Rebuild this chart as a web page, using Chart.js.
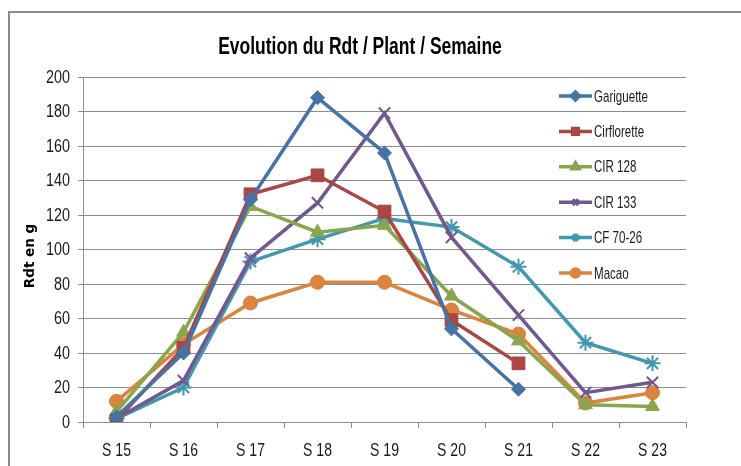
<!DOCTYPE html>
<html>
<head>
<meta charset="utf-8">
<script src="https://cdn.jsdelivr.net/npm/chart.js@4.4.1/dist/chart.umd.min.js"></script>
<style>
  html, body { margin: 0; padding: 0; background: #ffffff; }
  #wrap { width: 741px; height: 466px; }
</style>
</head>
<body>
<div id="wrap"><canvas id="c" width="741" height="466"></canvas></div>
<script>
const chartTitle = 'Evolution du Rdt / Plant / Semaine';
const yAxisTitle = 'Rdt en g';
const categories = ['S 15', 'S 16', 'S 17', 'S 18', 'S 19', 'S 20', 'S 21', 'S 22', 'S 23'];
const seriesNames = ['Gariguette', 'Cirflorette', 'CIR 128', 'CIR 133', 'CF 70-26', 'Macao'];
const gariguette = [3, 40, 129, 188, 156, 54, 19, null, null];
const cirflorette = [1, 43, 132, 143, 122, 59, 34, null, null];
const cir128 = [6, 52, 125, 110, 114, 73, 47, 10, 9];
const cir133 = [2, 24, 95, 127, 179, 107, 62, 17, 23];
const cf7026 = [2, 20, 93, 106, 118, 113, 90, 46, 34];
const macao = [12, 45, 69, 81, 81, 65, 51, 11, 17];
const yTicks = [0, 20, 40, 60, 80, 100, 120, 140, 160, 180, 200];

const colors = ['#4572A7', '#AA4643', '#89A54E', '#71588F', '#4198AF', '#DB843D'];
const styles = ['rectRot', 'rect', 'triangle', 'crossRot', 'star', 'circle'];
const radii = [7, 9, 8, 8, 8, 7];
const values = [gariguette, cirflorette, cir128, cir133, cf7026, macao];

const gridColor = '#8c8c8c';
const labelFont = "18px 'Liberation Sans', Arial, sans-serif";

const datasets = seriesNames.map((name, i) => ({
  label: name,
  data: values[i],
  borderColor: colors[i],
  backgroundColor: colors[i],
  borderWidth: 3.5,
  pointStyle: styles[i],
  pointRadius: radii[i],
  pointBorderWidth: (styles[i] === 'crossRot' || styles[i] === 'star') ? 2 : 1,
  pointBorderColor: colors[i],
  pointBackgroundColor: colors[i],
  tension: 0,
  spanGaps: false
}));

function narrowText(ctx, text, x, y, align, font, sx) {
  ctx.save();
  ctx.translate(x, y);
  ctx.scale(sx, 1);
  ctx.font = font;
  ctx.textAlign = align;
  ctx.textBaseline = 'middle';
  ctx.fillText(text, 0, 0);
  ctx.restore();
}

const decor = {
  id: 'decor',
  beforeDraw(chart) {
    const ctx = chart.ctx;
    ctx.save();
    ctx.fillStyle = '#ffffff';
    ctx.fillRect(0, 0, chart.width, chart.height);
    ctx.strokeStyle = '#8c8c8c';
    ctx.lineWidth = 2;
    ctx.strokeRect(9, 12, 1000, 1000);
    ctx.restore();
  },
  afterDraw(chart) {
    const ctx = chart.ctx;
    ctx.save();
    // Axis tick labels, positioned by the chart's own scales
    ctx.fillStyle = '#1a1a1a';
    const xs = chart.scales.x;
    xs.ticks.forEach((t, i) => {
      narrowText(ctx, xs.getLabelForValue(t.value), xs.getPixelForTick(i), 451, 'center', labelFont, 0.78);
    });
    const ys = chart.scales.y;
    ys.ticks.forEach((t) => {
      narrowText(ctx, String(t.value), 70, ys.getPixelForValue(t.value) + 1, 'right', labelFont, 0.8);
    });
    // Title
    ctx.fillStyle = '#000000';
    narrowText(ctx, chartTitle, 360, 48, 'center', "bold 23px 'Liberation Sans', Arial, sans-serif", 0.76);
    // Y axis title
    ctx.save();
    ctx.translate(30, 256);
    ctx.rotate(-Math.PI / 2);
    ctx.font = "bold 13.5px 'DejaVu Sans', sans-serif";
    ctx.textAlign = 'center';
    ctx.textBaseline = 'middle';
    ctx.fillText(yAxisTitle, 0, 0);
    ctx.restore();
    // Legend
    const lx0 = 559, lx1 = 592, ly0 = 96, lstep = 35.4;
    chart.data.datasets.forEach((ds, i) => {
      const y = ly0 + i * lstep;
      ctx.strokeStyle = ds.borderColor;
      ctx.lineWidth = 3.5;
      ctx.beginPath();
      ctx.moveTo(lx0, y);
      ctx.lineTo(lx1, y);
      ctx.stroke();
      ctx.fillStyle = ds.borderColor;
      Chart.helpers.drawPoint(ctx, {
        pointStyle: ds.pointStyle,
        radius: 4,
        rotation: 0,
        borderWidth: 1
      }, (lx0 + lx1) / 2, y);
      if (ds.pointStyle !== 'crossRot' && ds.pointStyle !== 'star') ctx.fill();
      ctx.fillStyle = '#1a1a1a';
      narrowText(ctx, ds.label, 594, y + 1, 'left', "17px 'Liberation Sans', Arial, sans-serif", 0.68);
    });
    ctx.restore();
  }
};

new Chart(document.getElementById('c'), {
  type: 'line',
  data: { labels: categories, datasets: datasets },
  options: {
    responsive: false,
    animation: false,
    layout: { padding: { top: 77, right: 55, bottom: 0, left: 0 } },
    plugins: {
      legend: { display: false },
      title: { display: false },
      tooltip: { enabled: false }
    },
    scales: {
      x: {
        offset: true,
        grid: { offset: true, drawOnChartArea: false, drawTicks: true, tickLength: 6, color: gridColor },
        border: { color: gridColor, width: 1 },
        ticks: { display: false, autoSkip: false, maxRotation: 0 },
        afterFit(s) { s.height = 44; }
      },
      y: {
        min: 0,
        max: 200,
        afterBuildTicks(s) { s.ticks = yTicks.map(v => ({ value: v })); },
        grid: { color: gridColor, tickLength: 5, lineWidth: 1 },
        border: { color: gridColor, width: 1 },
        ticks: { display: false },
        afterFit(s) { s.width = 83; }
      }
    }
  },
  plugins: [decor]
});
</script>
</body>
</html>
